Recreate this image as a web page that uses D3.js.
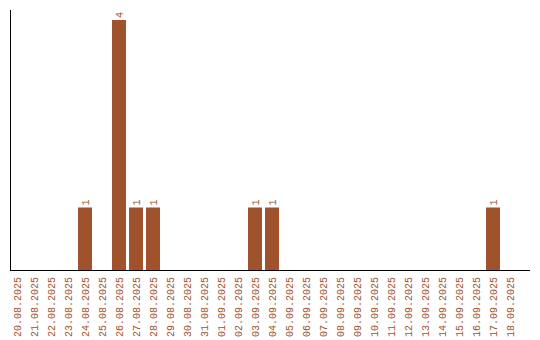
<!DOCTYPE html>
<html>
<head>
<meta charset="utf-8">
<script src="https://cdn.jsdelivr.net/npm/d3@7"></script>
<style>
body { margin: 0; background: #fff; }
text { font-family: "Liberation Mono", monospace; font-size: 10px; fill: #a0522d; }
</style>
</head>
<body>
<svg width="540" height="340"></svg>
<script>
var dates = ["20.08.2025","21.08.2025","22.08.2025","23.08.2025","24.08.2025","25.08.2025",
	"26.08.2025","27.08.2025","28.08.2025","29.08.2025","30.08.2025","31.08.2025",
	"01.09.2025","02.09.2025","03.09.2025","04.09.2025","05.09.2025","06.09.2025",
	"07.09.2025","08.09.2025","09.09.2025","10.09.2025","11.09.2025","12.09.2025",
	"13.09.2025","14.09.2025","15.09.2025","16.09.2025","17.09.2025","18.09.2025"];
var counts = [0,0,0,0,1,0,4,1,1,0,0,0,0,0,1,1,0,0,0,0,0,0,0,0,0,0,0,0,1,0];

var svg = d3.select('svg');
var plotLeft = 10, plotTop = 20, plotBase = 270;

var x = d3.scaleBand()
	.domain(dates)
	.range([plotLeft, plotLeft + 30 * 17 - 3])
	.paddingInner(3 / 17)
	.paddingOuter(0);

var y = d3.scaleLinear()
	.domain([0, 4])
	.range([plotBase, plotTop]);

var data = dates.map(function(d, i){ return {date: d, value: counts[i]}; });
var nonzero = data.filter(function(d){ return d.value > 0; });

svg.selectAll('rect.bar')
	.data(nonzero)
	.enter().append('rect')
	.attr('class', 'bar')
	.attr('x', function(d){ return x(d.date); })
	.attr('y', function(d){ return y(d.value); })
	.attr('width', x.bandwidth())
	.attr('height', function(d){ return plotBase - y(d.value); })
	.attr('fill', '#a0522d');

// value labels
svg.selectAll('text.val')
	.data(nonzero)
	.enter().append('text')
	.attr('class', 'val')
	.attr('transform', function(d){
		return 'translate(' + (x(d.date) + x.bandwidth() / 2 + 3.5) + ',' + (y(d.value) - 2) + ') rotate(-90)';
	})
	.text(function(d){ return d.value; });

// date labels
svg.selectAll('text.date')
	.data(dates)
	.enter().append('text')
	.attr('class', 'date')
	.attr('text-anchor', 'end')
	.attr('transform', function(d){
		return 'translate(' + (x(d) + x.bandwidth() / 2 + 3.5) + ',' + (plotBase + 7) + ') rotate(-90)';
	})
	.text(function(d){ return d; });

// axes
svg.append('line')
	.attr('x1', plotLeft + 0.5).attr('x2', plotLeft + 0.5)
	.attr('y1', 10).attr('y2', plotBase + 0.5)
	.attr('stroke', '#000');
svg.append('line')
	.attr('x1', plotLeft).attr('x2', 530)
	.attr('y1', plotBase + 0.5).attr('y2', plotBase + 0.5)
	.attr('stroke', '#000');
</script>
</body>
</html>
